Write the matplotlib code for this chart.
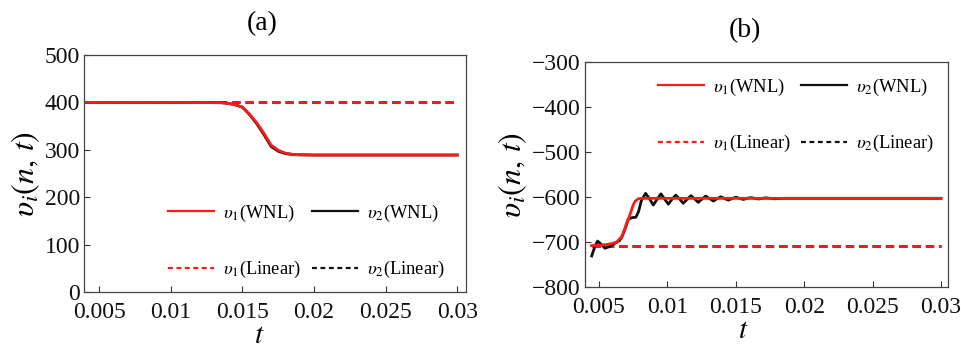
import matplotlib
matplotlib.use("Agg")
import matplotlib.pyplot as plt
from matplotlib.lines import Line2D
from matplotlib.ticker import FuncFormatter

plt.rcParams["font.family"] = ["Liberation Serif", "DejaVu Serif"]
plt.rcParams["mathtext.fontset"] = "stix"

# panel (a)
t_a_v1 = [0.0040, 0.0100, 0.0135, 0.0140, 0.0145, 0.0150, 0.0155, 0.0160, 0.0165,
          0.0170, 0.0175, 0.0180, 0.0185, 0.0190, 0.0200, 0.0300]
v_a_v1 = [400, 400, 399.5, 398, 395, 390, 375, 357, 335,
          310, 299, 293, 290.5, 289.5, 289, 289]
t_a_v2 = [0.0040, 0.0100, 0.0135, 0.0140, 0.0145, 0.0150, 0.0155, 0.0160, 0.0165,
          0.0170, 0.0175, 0.0180, 0.0185, 0.0190, 0.0200, 0.0300]
v_a_v2 = [400, 400, 399.5, 398, 395, 390, 374, 355, 332,
          307, 297, 292, 290, 289.5, 289, 289]
t_a_lin = [0.0040, 0.0300]
v_a_lin1 = [400, 400]
v_a_lin2 = [400, 400]

# panel (b)
t_b_v1 = [0.00446, 0.0050, 0.0055, 0.0060, 0.0063, 0.00666, 0.0069, 0.00702, 0.0072,
          0.00734, 0.0075, 0.00763, 0.00787, 0.00824, 0.0090, 0.0300]
v_b_v1 = [-708, -707, -706, -703, -700, -688, -670, -658, -645,
          -633, -618, -610, -604, -603, -603, -603]
t_b_v2 = [0.00447, 0.0047, 0.0049, 0.0052, 0.00544, 0.0058, 0.00617, 0.0065, 0.00666,
          0.0069, 0.00714, 0.0074, 0.0077, 0.0079, 0.0081, 0.00841, 0.0087, 0.00897,
          0.00925, 0.00953, 0.0098, 0.01007, 0.01034, 0.01061, 0.0109, 0.01116,
          0.01145, 0.01173, 0.0120, 0.01226, 0.01253, 0.0128, 0.01308, 0.01336,
          0.01363, 0.0139, 0.01418, 0.01446, 0.01473, 0.0150, 0.01528, 0.01556,
          0.01583, 0.0161, 0.01638, 0.01666, 0.01693, 0.0172, 0.0175, 0.0178,
          0.0185, 0.0300]
v_b_v2 = [-731, -710, -698, -706, -714, -710, -703, -697, -690,
          -672, -650, -646, -645, -632, -608, -592, -604, -618,
          -605, -593, -604.5, -616, -605, -596, -604.5, -614,
          -605, -597, -604.5, -612, -604.5, -598, -603.5, -609,
          -604, -599.5, -603.5, -607, -603.5, -600.5, -603, -605.5,
          -603, -601.5, -603, -604.5, -603, -602, -603, -604,
          -603, -603]
t_b_lin = [0.00446, 0.0300]
v_b_lin1 = [-708, -708]
v_b_lin2 = [-708, -708]

xticks = [0.005, 0.01, 0.015, 0.02, 0.025, 0.03]
yticks_a = [0, 100, 200, 300, 400, 500]
yticks_b = [-800, -700, -600, -500, -400, -300]

RED = "#ff1a1a"
BLK = "#111111"

fig = plt.figure(figsize=(9.61, 3.49), dpi=100)
ax_a = fig.add_axes([0.0874, 0.1633, 0.3975, 0.679])
ax_b = fig.add_axes([0.6087, 0.1777, 0.3777, 0.6447])

fmt = FuncFormatter(lambda v, p: f"{v:g}".replace("-", "\u2212"))


def style(ax, xlim, ylim, yticks):
    ax.set_xlim(*xlim)
    ax.set_ylim(*ylim)
    ax.set_xticks(xticks)
    ax.set_yticks(yticks)
    ax.xaxis.set_major_formatter(fmt)
    ax.yaxis.set_major_formatter(fmt)
    ax.tick_params(direction="in", length=4, width=0.8, labelsize=17,
                   colors="#333333", labelcolor="#111111")
    ax.tick_params(axis="x", pad=7)
    ax.tick_params(axis="y", pad=3)
    for s in ax.spines.values():
        s.set_color("#444444")
        s.set_linewidth(0.9)
    ax.set_ylabel(r"$\upsilon_i(n,\,t)$", fontsize=23, labelpad=2)


def legend(ax, anchor):
    handles = [
        Line2D([], [], color=RED, lw=1.6),
        Line2D([], [], color=RED, lw=1.6, dashes=(2.2, 1.6)),
        Line2D([], [], color=BLK, lw=1.6),
        Line2D([], [], color=BLK, lw=1.6, dashes=(2.2, 1.6)),
    ]
    labels = [r"$\upsilon_1$(WNL)", r"$\upsilon_1$(Linear)",
              r"$\upsilon_2$(WNL)", r"$\upsilon_2$(Linear)"]
    ax.legend(handles, labels, ncol=2, loc="lower left", bbox_to_anchor=anchor,
              frameon=False, fontsize=13.3, handlelength=2.5, handletextpad=0.5,
              columnspacing=0.55, labelspacing=1.9, borderpad=0, borderaxespad=0)


# (a)
ax_a.plot(t_a_lin, v_a_lin2, color=BLK, lw=2, dashes=(3, 1.8))
ax_a.plot(t_a_lin, v_a_lin1, color=RED, lw=2, dashes=(3, 1.8))
ax_a.plot(t_a_v2, v_a_v2, color=BLK, lw=2)
ax_a.plot(t_a_v1, v_a_v1, color=RED, lw=2)
style(ax_a, (0.00393, 0.03061), (0, 500), yticks_a)
ax_a.set_title("(a)", fontsize=20, x=0.466, pad=18)
ax_a.set_xlabel("$t$", fontsize=21, labelpad=0, x=0.46)
legend(ax_a, (0.22, 0.05))

# (b)
ax_b.plot(t_b_lin, v_b_lin2, color=BLK, lw=2, dashes=(3, 1.8))
ax_b.plot(t_b_lin, v_b_lin1, color=RED, lw=2, dashes=(3, 1.8))
ax_b.plot(t_b_v2, v_b_v2, color=BLK, lw=2)
ax_b.plot(t_b_v1, v_b_v1, color=RED, lw=2)
style(ax_b, (0.003977, 0.03051), (-800, -300), yticks_b)
ax_b.set_title("(b)", fontsize=20, x=0.44, pad=18)
ax_b.set_xlabel("$t$", fontsize=21, labelpad=0, x=0.435)
legend(ax_b, (0.2, 0.59))

fig.savefig("out.png", dpi=100)
